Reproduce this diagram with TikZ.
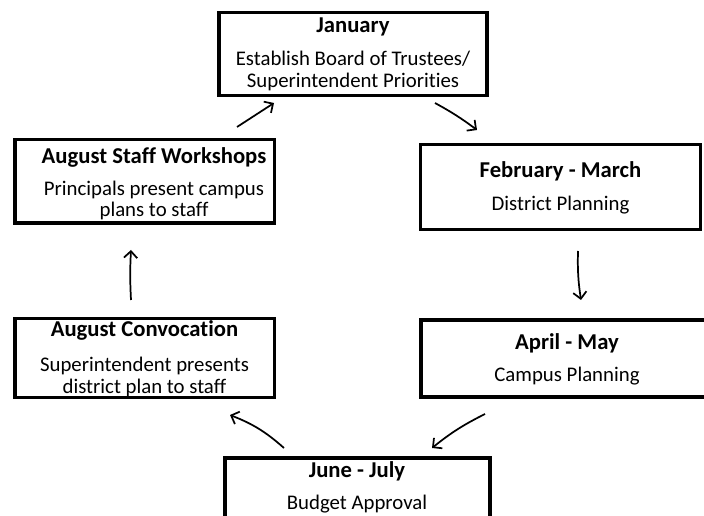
\documentclass[tikz,border=0pt]{standalone}
\usepackage{fontspec}
\setmainfont{Carlito}[Ligatures=NoCommon]
\usetikzlibrary{arrows.meta}

\begin{document}
\begin{tikzpicture}[
  x=0.75pt, y=-0.75pt,
  box/.style={draw, line width=2.6pt, inner sep=0pt, outer sep=0pt},
  ttl/.style={anchor=base, inner sep=0pt, font=\fontsize{17}{20}\selectfont\bfseries},
  txt/.style={anchor=base, inner sep=0pt, font=\fontsize{15.6}{19}\selectfont},
  flow/.style={line width=1.3pt, -{Straight Barb[length=5pt,width=10pt,line width=1.3pt]}}
]
\useasboundingbox (0,0) rectangle (704,516);
\clip (0,0) rectangle (704,516);

% ---- boxes ----
\node[box, minimum width=201pt, minimum height=62pt] (jan) at (353,54) {};
\node[box, minimum width=210pt, minimum height=63.4pt] (feb) at (560.5,187) {};
\node[box, minimum width=219pt, minimum height=58pt] (apr) at (567,358.5) {};
\node[box, minimum width=199pt, minimum height=64pt] (jun) at (357.5,500.5) {};
\node[box, minimum width=194.6pt, minimum height=59pt] (conv) at (144.5,358) {};
\node[box, minimum width=194.6pt, minimum height=62.6pt] (work) at (144.5,181.5) {};

% ---- texts ----
\node[ttl] (janT) at (353,33) {January};
\node[txt] (janA) at (353,66) {Establish Board of Trustees/};
\node[txt] (janB) at (353,88) {Superintendent Priorities};

\node[ttl] (febT) at (560.5,178) {February - March};
\node[txt] (febA) at (560.5,211) {District Planning};

\node[ttl] (aprT) at (567,350) {April - May};
\node[txt] (aprA) at (567,382) {Campus Planning};

\node[ttl] (junT) at (357,478) {June - July};
\node[txt] (junA) at (357,510) {Budget Approval};

\node[ttl] (convT) at (144.5,337) {August Convocation};
\node[txt] (convA) at (144.5,372) {Superintendent presents};
\node[txt] (convB) at (144.5,394) {district plan to staff};

\node[ttl] (workT) at (154,164) {August Staff Workshops};
\node[txt] (workA) at (154,196) {Principals present campus};
\node[txt] (workB) at (154,217) {plans to staff};

% ---- arrow end points ----
\coordinate (w2j-s) at (237,127);
\coordinate (w2j-e) at (274,103);
\coordinate (j2f-s) at (435,103);
\coordinate (j2f-e) at (477,130);
\coordinate (f2a-s) at (578,251);
\coordinate (f2a-e) at (581,300);
\coordinate (a2j-s) at (485,414);
\coordinate (a2j-e) at (432,448);
\coordinate (j2c-s) at (284,448);
\coordinate (j2c-e) at (230,415);
\coordinate (c2w-s) at (131,300);
\coordinate (c2w-e) at (131,250);

% ---- cycle arrows ----
\draw[flow] (w2j-s) -- (w2j-e);
\draw[flow] (j2f-s) to[bend left=4] (j2f-e);
\draw[flow] (f2a-s) to[bend right=5] (f2a-e);
\draw[flow] (a2j-s) to[bend right=6] (a2j-e);
\draw[flow] (j2c-s) to[bend right=10] (j2c-e);
\draw[flow] (c2w-s) to[bend left=3] (c2w-e);
\end{tikzpicture}
\end{document}
